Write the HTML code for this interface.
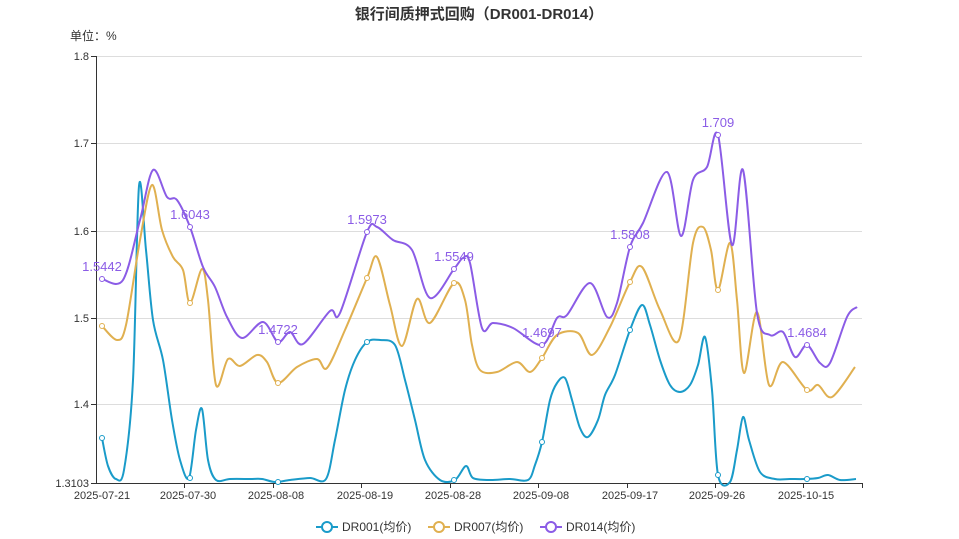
<!DOCTYPE html>
<html><head><meta charset="utf-8"><style>
body{margin:0;background:#fff;}
svg{display:block;font-family:"Liberation Sans","Noto Sans CJK SC",sans-serif;}
</style></head><body>
<svg id="s" width="959" height="539" viewBox="0 0 959 539">
<text x="479" y="19" text-anchor="middle" font-size="15" font-weight="bold" fill="#333">银行间质押式回购（DR001-DR014）</text>
<text x="70" y="40" font-size="12" fill="#333">单位：%</text>
<g stroke="#ddd" stroke-width="1">
<line x1="96" y1="56.5" x2="862" y2="56.5"/><line x1="96" y1="143.5" x2="862" y2="143.5"/>
<line x1="96" y1="231.5" x2="862" y2="231.5"/><line x1="96" y1="318.5" x2="862" y2="318.5"/>
<line x1="96" y1="404.5" x2="862" y2="404.5"/>
</g>
<g stroke="#333" stroke-width="1">
<line x1="96.5" y1="56" x2="96.5" y2="484"/><line x1="96" y1="483.5" x2="862" y2="483.5"/>
<line x1="91" y1="56.5" x2="96" y2="56.5"/><line x1="91" y1="143.5" x2="96" y2="143.5"/><line x1="91" y1="231.5" x2="96" y2="231.5"/><line x1="91" y1="318.5" x2="96" y2="318.5"/><line x1="91" y1="404.5" x2="96" y2="404.5"/><line x1="91" y1="483.5" x2="96" y2="483.5"/>
<line x1="184.5" y1="483" x2="184.5" y2="488"/><line x1="273.5" y1="483" x2="273.5" y2="488"/><line x1="361.5" y1="483" x2="361.5" y2="488"/><line x1="450.5" y1="483" x2="450.5" y2="488"/><line x1="538.5" y1="483" x2="538.5" y2="488"/><line x1="627.5" y1="483" x2="627.5" y2="488"/><line x1="715.5" y1="483" x2="715.5" y2="488"/><line x1="803.5" y1="483" x2="803.5" y2="488"/><line x1="862.5" y1="483" x2="862.5" y2="488"/>
</g>
<g font-size="11" fill="#333" text-anchor="end">
<text x="89" y="60">1.8</text><text x="89" y="147">1.7</text><text x="89" y="235">1.6</text><text x="89" y="322">1.5</text><text x="89" y="408">1.4</text><text x="89" y="487">1.3103</text>
</g>
<g font-size="11" fill="#333" text-anchor="middle">
<text x="102" y="499">2025-07-21</text><text x="188" y="499">2025-07-30</text><text x="276" y="499">2025-08-08</text><text x="365" y="499">2025-08-19</text><text x="453" y="499">2025-08-28</text><text x="541" y="499">2025-09-08</text><text x="630" y="499">2025-09-17</text><text x="717" y="499">2025-09-26</text><text x="806" y="499">2025-10-15</text>
</g>
<g id="series" fill="none" stroke-width="2"></g>
<g id="marks"></g>
<g font-size="12" fill="#333">
<line x1="316" y1="527" x2="338" y2="527" stroke="#1a9bc9" stroke-width="2"/><circle cx="327" cy="527" r="5" fill="#fff" stroke="#1a9bc9" stroke-width="2"/><text x="342" y="531">DR001(均价)</text>
<line x1="428" y1="527" x2="450" y2="527" stroke="#e0b050" stroke-width="2"/><circle cx="439" cy="527" r="5" fill="#fff" stroke="#e0b050" stroke-width="2"/><text x="454" y="531">DR007(均价)</text>
<line x1="540" y1="527" x2="562" y2="527" stroke="#8b5ce6" stroke-width="2"/><circle cx="551" cy="527" r="5" fill="#fff" stroke="#8b5ce6" stroke-width="2"/><text x="566" y="531">DR014(均价)</text>
</g>
</svg>
<script>
var B=[[102,438],[108,466],[116,479],[124,470],[133,380],[139,186],[146,250],[153,320],[163,360],[172,420],[180,460],[189,478],[196,430],[202,409],[208,460],[216,480],[230,479],[250,479],[262,479],[275,482],[290,480],[310,478],[326,479],[335,440],[345,390],[355,360],[367,342],[380,340],[395,345],[405,380],[415,420],[425,460],[440,480],[455,480],[466,466],[473,478],[490,480],[510,479],[528,480],[535,465],[542,442],[550,400],[557,383],[565,378],[572,400],[580,428],[588,437],[598,420],[605,395],[615,375],[630,330],[642,305],[650,325],[660,360],[670,385],[680,392],[690,385],[698,365],[705,337],[712,390],[718,475],[730,482],[737,450],[743,417],[749,440],[760,472],[775,479],[790,479],[805,479],[818,478],[828,475],[840,480],[856,479]];
var O=[[102,326],[117,340],[126,325],[140,240],[152,185],[162,230],[173,257],[183,270],[190,303],[202,269],[208,300],[216,385],[228,359],[240,366],[257,355],[267,362],[278,383],[297,367],[317,359],[327,368],[345,330],[367,278],[377,257],[390,305],[402,346],[417,299],[430,323],[454,283],[465,300],[472,345],[480,370],[497,372],[517,362],[530,372],[542,358],[557,335],[578,333],[592,355],[610,327],[630,282],[642,267],[660,310],[679,340],[693,243],[703,227],[711,250],[718,290],[730,243],[737,300],[744,373],[757,312],[769,385],[783,362],[807,390],[818,385],[832,397],[855,367]];
var P=[[102,279],[123,280],[140,220],[153,170],[167,197],[177,200],[190,227],[203,267],[215,287],[227,317],[242,338],[263,322],[278,342],[290,332],[303,344],[330,311],[340,313],[367,232],[377,227],[393,240],[412,250],[430,298],[454,269],[463,258],[470,263],[482,328],[493,323],[513,328],[542,345],[557,318],[567,315],[590,283],[607,317],[617,303],[630,247],[643,223],[667,172],[681,236],[693,180],[707,167],[718,135],[732,245],[743,170],[757,313],[770,335],[783,332],[795,357],[807,345],[820,363],[830,363],[847,317],[857,307]];
function path(p){var d="M"+p[0][0]+","+p[0][1];for(var i=0;i<p.length-1;i++){var a=p[i-1]||p[i],b=p[i],c=p[i+1],e=p[i+2]||c;var t=0.16;d+=" C"+(b[0]+(c[0]-a[0])*t)+","+(b[1]+(c[1]-a[1])*t)+" "+(c[0]-(e[0]-b[0])*t)+","+(c[1]-(e[1]-b[1])*t)+" "+c[0]+","+c[1];}return d;}
var g=document.getElementById("series"),ns="http://www.w3.org/2000/svg";
[[B,"#1a9bc9"],[O,"#e0b050"],[P,"#8b5ce6"]].forEach(function(s){var e=document.createElementNS(ns,"path");e.setAttribute("d",path(s[0]));e.setAttribute("stroke",s[1]);g.appendChild(e);});
var m=document.getElementById("marks");
var L=[[102,"1.5442"],[190,"1.6043"],[278,"1.4722"],[367,"1.5973"],[454,"1.5549"],[542,"1.4697"],[630,"1.5808"],[718,"1.709"],[807,"1.4684"]];
function yAt(arr,x){var best=arr[0];for(var i=0;i<arr.length;i++)if(Math.abs(arr[i][0]-x)<Math.abs(best[0]-x))best=arr[i];return best[1];}
L.forEach(function(l){[[B,"#1a9bc9"],[O,"#e0b050"],[P,"#8b5ce6"]].forEach(function(s){var c=document.createElementNS(ns,"circle");c.setAttribute("cx",l[0]);c.setAttribute("cy",yAt(s[0],l[0]));c.setAttribute("r",2.5);c.setAttribute("fill","#fff");c.setAttribute("stroke",s[1]);m.appendChild(c);});
var t=document.createElementNS(ns,"text");t.setAttribute("x",l[0]);t.setAttribute("y",yAt(P,l[0])-8);t.setAttribute("text-anchor","middle");t.setAttribute("font-size","13");t.setAttribute("fill","#8b5ce6");t.textContent=l[1];m.appendChild(t);});
</script>
</body></html>
